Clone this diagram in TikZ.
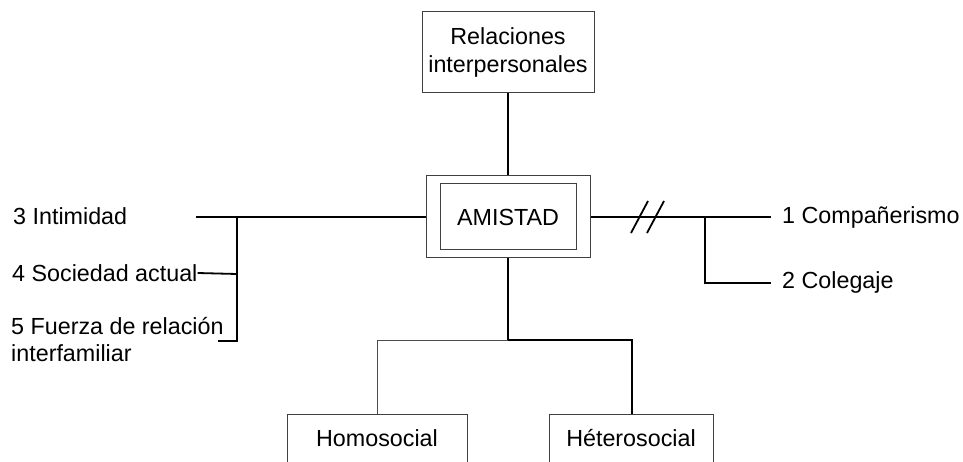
\documentclass[tikz,border=0pt]{standalone}
\usepackage{fontspec}
\setmainfont{Liberation Sans}
\begin{document}
\begin{tikzpicture}[x=1pt,y=-1pt,
  txt/.style={font=\fontsize{23.3}{27}\selectfont, inner sep=0pt, align=left},
  boxln/.style={draw=black!75, line width=1pt},
  conn/.style={draw=black, line width=1.8pt},
  thin/.style={draw=black!70, line width=1pt}]
\useasboundingbox (0,0) rectangle (963,462);
\clip (0,0) rectangle (963,462);
% boxes
\node[boxln, txt, font=\fontsize{23.3}{28}\selectfont, align=center, minimum width=172pt, minimum height=81pt] (rel) at (508,52.5) {Relaciones\\interpersonales};
\node[boxln, minimum width=164pt, minimum height=82pt] (ami) at (508,217) {};
\node[boxln, txt, minimum width=136pt, minimum height=66pt] (amiin) at (508,217) {AMISTAD};
\node[boxln, txt, anchor=north, minimum width=180pt, text height=32pt, text depth=30pt] (homo) at (377,414) {Homosocial};
\node[boxln, txt, anchor=north, minimum width=164pt, text height=32pt, text depth=30pt] (hete) at (631,414) {Héterosocial};
% left labels
\node[txt, anchor=west] (t3) at (13,216) {3 Intimidad};
\node[txt, anchor=west] (t4) at (12,273) {4 Sociedad actual};
\node[txt, anchor=west] (t5) at (11,340) {5 Fuerza de relación\\interfamiliar};
% right labels
\node[txt, anchor=west] (t1) at (782,217) {1 Compañerismo};
\node[txt, anchor=west] (t2) at (782,282) {2 Colegaje};
% junction coordinates
\coordinate (l3) at (196,217);
\coordinate (jl) at (237,217);
\coordinate (jl4) at (237,274);
\coordinate (jl5) at (237,341);
\coordinate (l5) at (218,341);
\coordinate (r1) at (771,217);
\coordinate (jr) at (705,217);
\coordinate (jr2) at (705,283);
\coordinate (r2) at (771,283);
\coordinate (jb) at (508,340);
\coordinate (jbl) at (377,340);
\coordinate (jbr) at (632,340);
% connectors
\draw[conn] (rel.south) -- (ami.north);
\draw[conn] (l3) -- (ami.west);
\draw[conn] (jl) -- (jl5) -- (l5);
\draw[conn] (t4.east) -- (jl4);
\draw[conn] (ami.east) -- (r1);
\draw[conn] (jr) -- (jr2) -- (r2);
\draw[conn] (631,233) -- (648,201);
\draw[conn] (647,233) -- (664,201);
\draw[conn] (ami.south) -- (jb) -- (jbr) -- (hete.north -| jbr);
\draw[thin] (jb) -- (jbl) -- (homo.north);
\end{tikzpicture}
\end{document}
